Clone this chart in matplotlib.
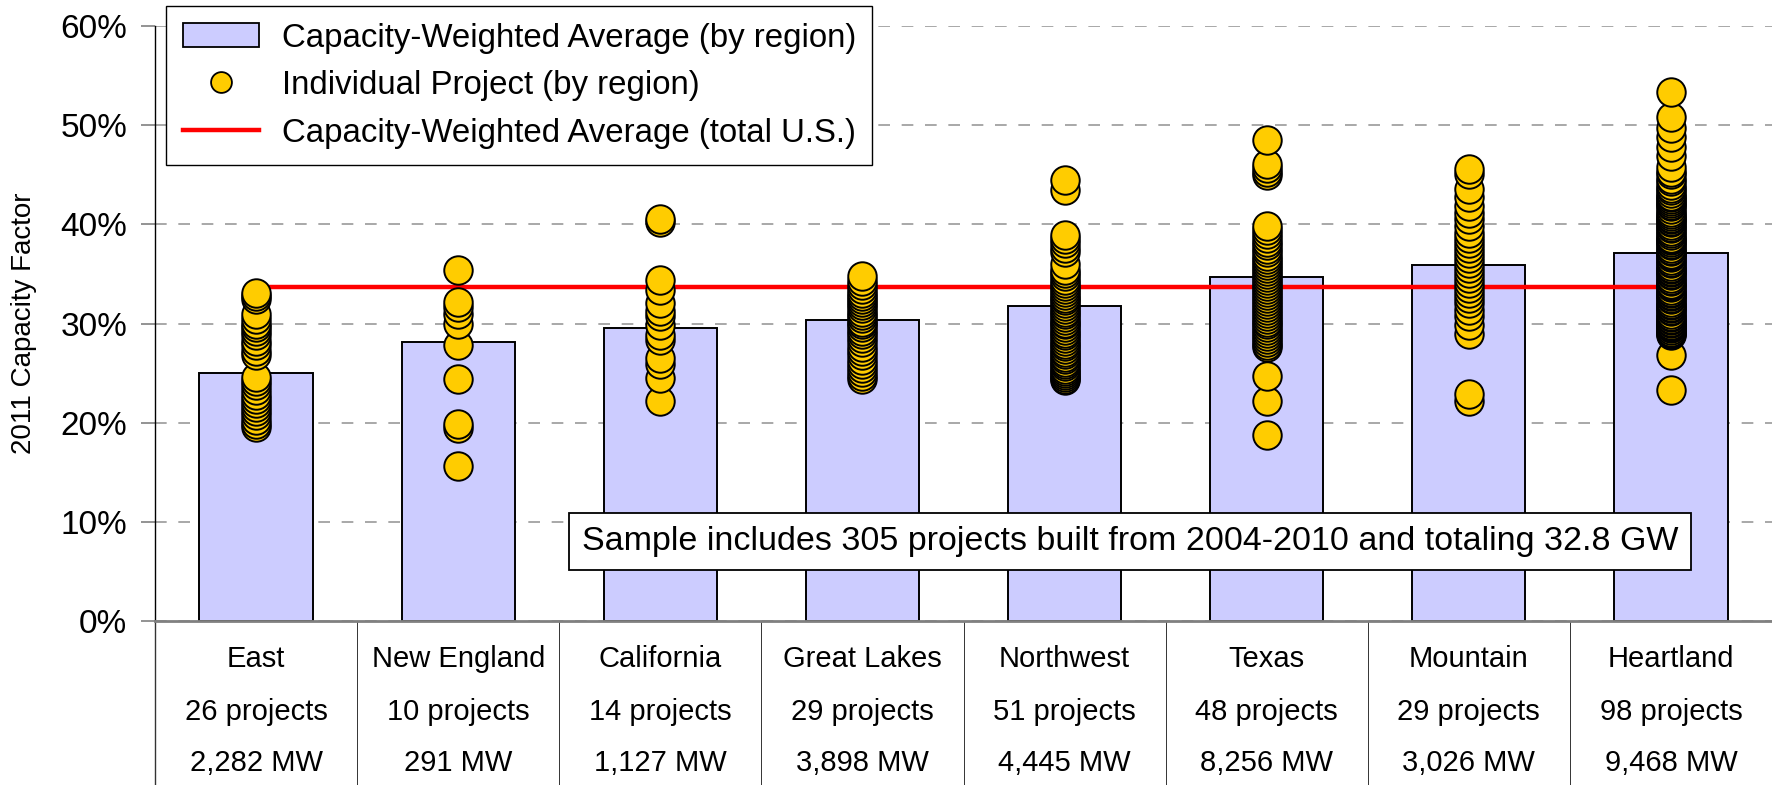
import matplotlib
matplotlib.use("Agg")
import matplotlib.pyplot as plt
import matplotlib.transforms as mtransforms
from matplotlib.lines import Line2D
from matplotlib.patches import Patch
from matplotlib.ticker import FuncFormatter

plt.rcParams["font.family"] = ["Liberation Sans", "DejaVu Sans"]

regions = ["East", "New England", "California", "Great Lakes",
           "Northwest", "Texas", "Mountain", "Heartland"]
n_projects = [26, 10, 14, 29, 51, 48, 29, 98]
capacity_mw = ["2,282", "291", "1,127", "3,898", "4,445", "8,256", "3,026", "9,468"]

# capacity-weighted average by region, %
weighted_avg = [25.0, 28.1, 29.5, 30.4, 31.8, 34.7, 35.9, 37.1]
us_avg = 33.7

# individual project capacity factors, %
east = [33.1, 32.8, 32.5, 31.0, 30.5, 30.0, 29.6, 29.2, 28.8, 28.2, 27.8, 27.2, 26.8,
        24.6, 24.2, 23.8, 23.3, 22.8, 22.4, 22.0, 21.6, 21.2, 20.8, 20.3, 19.9, 19.6]
new_england = [35.4, 32.2, 31.7, 31.0, 30.0, 27.8, 24.4, 19.9, 19.5, 15.6]
california = [40.5, 40.2, 34.4, 33.4, 32.1, 31.3, 30.8, 29.8, 28.8, 28.3, 26.5, 25.9,
              24.5, 22.2]
great_lakes = [34.8, 34.3, 33.9, 33.5, 33.1, 32.8, 32.5, 32.2, 31.9, 31.6, 31.2, 30.9,
               30.6, 30.2, 29.9, 29.6, 29.2, 28.9, 28.5, 28.1, 27.6, 27.2, 26.8, 26.3,
               25.9, 25.5, 25.1, 24.7, 24.4]
northwest = [44.5, 43.5, 38.9, 38.5, 38.1, 37.6, 37.2, 36.0, 35.4, 35.1, 34.8, 34.4,
             34.1, 33.8, 33.5, 33.2, 32.9, 32.6, 32.4, 32.1, 31.8, 31.5, 31.2, 31.0,
             30.7, 30.4, 30.1, 29.9, 29.6, 29.3, 29.0, 28.8, 28.5, 28.2, 27.9, 27.7,
             27.4, 27.1, 26.9, 26.6, 26.4, 26.1, 25.9, 25.7, 25.4, 25.2, 25.0, 24.8,
             24.6, 24.4, 24.3]
texas = [48.5, 46.1, 45.7, 45.3, 45.0, 39.8, 39.4, 39.0, 38.6, 38.2, 37.9, 37.5, 37.2,
         36.8, 36.5, 36.2, 35.9, 35.6, 35.3, 35.0, 34.7, 34.4, 34.1, 33.8, 33.5, 33.2,
         32.9, 32.6, 32.3, 32.0, 31.7, 31.4, 31.1, 30.8, 30.5, 30.2, 29.9, 29.6, 29.3,
         29.0, 28.7, 28.4, 28.1, 27.8, 27.6, 24.7, 22.2, 18.8]
mountain = [45.6, 45.1, 43.6, 42.8, 41.8, 41.1, 40.5, 39.8, 39.1, 38.6, 38.1, 37.6,
            37.1, 36.6, 36.1, 35.6, 35.1, 34.6, 34.1, 33.6, 33.1, 32.6, 32.1, 31.4,
            30.8, 29.8, 28.9, 22.9, 22.2]
heartland = [53.3, 50.8, 49.7, 48.8, 47.8, 46.9, 45.8,
             45.3, 45.1, 44.6, 44.4, 44.0, 43.7, 43.5, 43.2, 42.9, 42.8,
             42.4, 42.2, 41.9, 41.8, 41.5, 41.2, 41.0, 40.8, 40.6, 40.3,
             40.2, 39.9, 39.7, 39.6, 39.3, 39.1, 38.9, 38.6, 38.5, 38.2,
             38.0, 37.9, 37.6, 37.4, 37.3, 37.0, 36.8, 36.7, 36.4, 36.2,
             36.1, 35.8, 35.6, 35.5, 35.2, 35.0, 34.9, 34.6, 34.4, 34.3,
             34.0, 33.8, 33.7, 33.4, 33.2, 33.1, 32.8, 32.6, 32.5, 32.2,
             32.0, 31.9, 31.6, 31.4, 31.3, 31.0, 30.8, 30.7, 30.4, 30.2,
             30.1, 29.8, 29.6, 29.5, 29.3, 29.1, 29.0, 28.9, 28.8,
             36.9, 35.3, 33.9, 32.9, 31.7, 30.5, 29.7, 38.4, 40.5, 42.6,
             26.8, 23.3]
projects = [east, new_england, california, great_lakes,
            northwest, texas, mountain, heartland]

W, H = 1772, 785
fig = plt.figure(figsize=(W / 100, H / 100), dpi=100)
ax = fig.add_axes([155 / W, 164 / H, 1617 / W, 595 / H])

x = list(range(len(regions)))
ax.bar(x, weighted_avg, width=0.56, color="#CCCCFF", edgecolor="black",
       linewidth=1.4, zorder=2)
ax.plot([0, 7], [us_avg, us_avg], color="#FF0000", lw=3.2, zorder=3)
for i, vals in enumerate(projects):
    vals = sorted(vals)
    ax.plot([i] * len(vals), vals, "o", ms=20.5, mfc="#FFCC00", mec="black",
            mew=1.4, zorder=4)

ax.set_xlim(-0.5, 7.5)
ax.set_ylim(0, 60)
ax.set_yticks(range(0, 61, 10))
ax.yaxis.set_major_formatter(FuncFormatter(lambda v, p: f"{v:.0f}%"))
ax.set_xticks([])
ax.tick_params(axis="y", length=10, width=1.2, color="#808080", labelsize=24, pad=10)
ax.yaxis.grid(True, color="#999999", lw=1.2, linestyle=(0, (7, 7)))
ax.set_axisbelow(True)
for s in ["top", "right"]:
    ax.spines[s].set_visible(False)
ax.spines["left"].set_color("black")
ax.spines["left"].set_linewidth(1.0)
ax.spines["bottom"].set_color("#808080")
ax.spines["bottom"].set_linewidth(2)

ax.text(-0.081, 0.5, "2011 Capacity Factor", transform=ax.transAxes, rotation=90,
        ha="center", va="center", fontsize=20)

# region table under the axis
trans = mtransforms.blended_transform_factory(ax.transData, ax.transAxes)
for b in range(8):
    ax.plot([b - 0.5, b - 0.5], [0, -0.276], transform=trans, color="#333333",
            lw=1.0 if b == 0 else 0.7, clip_on=False)
for i, name in enumerate(regions):
    ax.text(i, -0.0773, name, transform=trans, ha="center", va="baseline", fontsize=21)
    ax.text(i, -0.1664, f"{n_projects[i]} projects", transform=trans, ha="center",
            va="baseline", fontsize=21)
    ax.text(i, -0.2515, f"{capacity_mw[i]} MW", transform=trans, ha="center",
            va="baseline", fontsize=21)

ax.text(4.324, 8.06,
        "Sample includes 305 projects built from 2004-2010 and totaling 32.8 GW",
        ha="center", va="center", fontsize=24.5, zorder=6,
        bbox=dict(boxstyle="square,pad=0.38", fc="white", ec="black", lw=1.3))

handles = [
    Patch(facecolor="#CCCCFF", edgecolor="black", lw=1.3),
    Line2D([], [], ls="none", marker="o", ms=15, mfc="#FFCC00", mec="black", mew=1.3),
    Line2D([], [], color="#FF0000", lw=3.2),
]
labels = ["Capacity-Weighted Average (by region)", "Individual Project (by region)",
          "Capacity-Weighted Average (total U.S.)"]
leg = ax.legend(handles, labels, loc="upper left", bbox_to_anchor=(166 / W, 1 - 6 / H),
                bbox_transform=fig.transFigure, borderaxespad=0, fontsize=23.8,
                fancybox=False, framealpha=1, edgecolor="black",
                handlelength=2.3, handleheight=0.7, handletextpad=0.7,
                labelspacing=0.5, borderpad=0.5)
leg.get_frame().set_linewidth(1.0)
leg.set_zorder(10)

fig.savefig("out.png", dpi=100)
